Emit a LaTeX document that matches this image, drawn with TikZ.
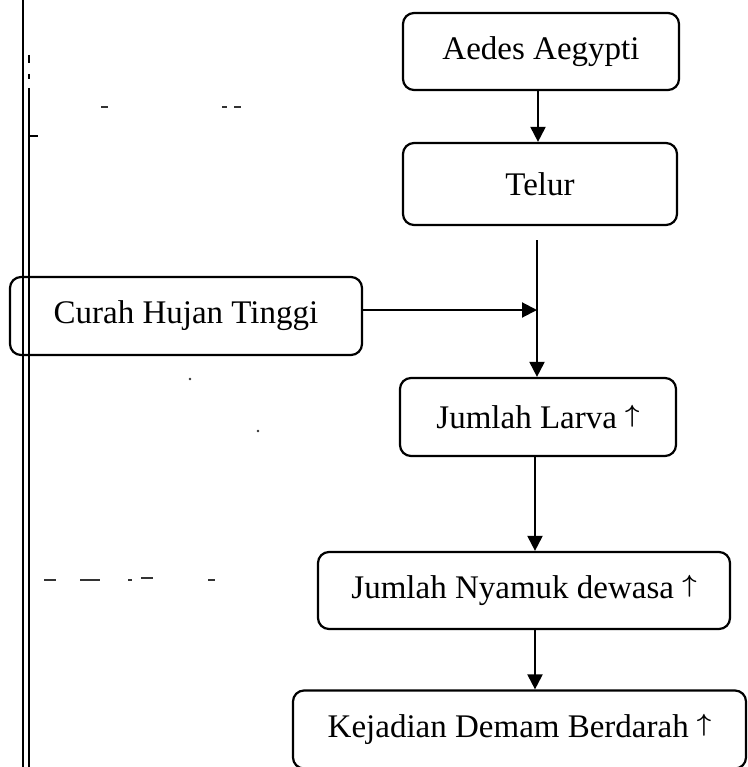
\documentclass[tikz,border=0pt]{standalone}
\usepackage{fontspec}
\setmainfont{Liberation Serif}
\usetikzlibrary{arrows.meta}
\newcommand{\uparr}{\raisebox{0.19em}{\boldmath$\uparrow$}}
\begin{document}
\begin{tikzpicture}[x=1pt,y=1pt,
  box/.style={draw, line width=2.2pt, rounded corners=11pt, align=center, inner sep=0pt,
    font=\fontsize{33}{38}\selectfont},
  arr/.style={line width=2pt, -{Triangle[length=15pt,width=15pt]}},
  noise/.style={line width=1.8pt, black!80}]
\useasboundingbox (0,0) rectangle (747,-767);
\begin{scope}
\clip (0,0) rectangle (747,-767);
% nodes
\node[box, minimum width=276pt, minimum height=77pt] (aedes) at (541,-51.5) {Aedes Aegypti};
\node[box, minimum width=274pt, minimum height=82pt] (telur) at (540,-184) {Telur};
\node[box, minimum width=352pt, minimum height=78pt] (curah) at (186,-316) {Curah Hujan Tinggi};
\node[box, minimum width=276pt, minimum height=78pt] (larva) at (538,-417) {Jumlah Larva \uparr};
\node[box, minimum width=412pt, minimum height=77pt] (nyamuk) at (524,-590.5) {Jumlah Nyamuk dewasa \uparr};
\node[box, minimum width=453pt, minimum height=78pt] (kejadian) at (519.5,-729.5) {Kejadian Demam Berdarah \uparr};
% helper coordinates
\coordinate (c1) at (538,0);
\coordinate (t0) at (537,-240);
\coordinate (j) at (537,-310);
\coordinate (c3) at (535,0);
% connectors
\draw[arr] (aedes.south -| c1) -- (telur.north -| c1);
\draw[arr] (t0) -- (larva.north -| t0);
\draw[arr] (curah.east |- j) -- (j);
\draw[arr] (larva.south -| c3) -- (nyamuk.north -| c3);
\draw[arr] (nyamuk.south -| c3) -- (kejadian.north -| c3);
% left margin lines (scan)
\draw[line width=2.6pt] (23,0) -- (23,-767);
\draw[line width=1.6pt] (29,-55) -- (29,-63);
\draw[line width=1.6pt] (29,-74) -- (29,-79);
\draw[line width=1.6pt] (29,-88) -- (29,-767);
\draw[line width=1.2pt] (29,-136) -- (38,-136);
% scan noise
\draw[noise] (101,-107) -- (108,-107);
\draw[noise] (222,-107) -- (227,-107);
\draw[noise] (234,-107) -- (241,-107);
\fill[black!80] (190,-379) circle (1.4pt);
\fill[black!80] (258,-431) circle (1.4pt);
\draw[noise] (44,-580) -- (56,-580);
\draw[noise] (80,-580) -- (100,-580);
\draw[noise] (128,-580) -- (132,-580);
\draw[noise] (141,-578) -- (153,-578);
\draw[noise] (208,-580) -- (215,-580);
\end{scope}
\end{tikzpicture}
\end{document}
